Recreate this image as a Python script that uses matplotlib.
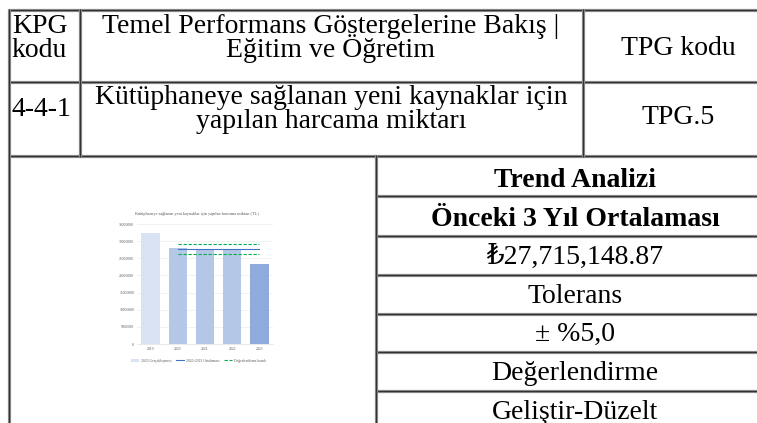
import numpy as np
import matplotlib.pyplot as plt

# Tablo metinleri
kpg_kod = ['KPG', 'kodu']
baslik = ['Temel Performans Göstergelerine Bakış |', 'Eğitim ve Öğretim']
tpg_baslik = 'TPG kodu'
kpg_no = '4-4-1'
gosterge = ['Kütüphaneye sağlanan yeni kaynaklar için', 'yapılan harcama miktarı']
tpg_no = 'TPG.5'
sag_satirlar = ['Trend Analizi', 'Önceki 3 Yıl Ortalaması', '₺27,715,148.87',
                'Tolerans', '± %5,0', 'Değerlendirme', 'Geliştir-Düzelt']
kalin = [True, True, False, False, False, False, False]

# Grafik verisi
yillar = ['2019', '2020', '2021', '2022', '2023']
harcama = [32300000, 27900000, 27650000, 27600000, 23300000]
ortalama = [np.nan, 27715148.87, 27715148.87, 27715148.87, 27715148.87]
bant_ust = [np.nan, 29100906.31, 29100906.31, 29100906.31, 29100906.31]
bant_alt = [np.nan, 26329391.43, 26329391.43, 26329391.43, 26329391.43]
bar_renk = ['#dae3f3', '#b4c7e7', '#b4c7e7', '#b4c7e7', '#8faadc']

serif = ['Liberation Serif', 'DejaVu Serif']
plt.rcParams['font.family'] = serif

fig = plt.figure(figsize=(7.57, 4.23), dpi=100)
tab = fig.add_axes([0, 0, 1, 1])
tab.set_xlim(0, 757)
tab.set_ylim(423, 0)
tab.axis('off')

def cizgi(xs, ys):
    tab.plot(xs, ys, color='#8a8a8a', lw=2.3, solid_capstyle='butt')
    tab.plot(xs, ys, color='#333333', lw=0.8, solid_capstyle='butt')

R = 774
# yatay çizgiler
for y in [10, 82, 156]:
    cizgi([8, R], [y, y])
for y in [196, 236, 275, 314, 352, 391]:
    cizgi([376, R], [y, y])
# dikey çizgiler
cizgi([9, 9], [9, 430])
cizgi([80, 80], [9, 157])
cizgi([583, 583], [9, 157])
cizgi([376, 376], [155, 430])

fs = 20
# 1. satır
tab.text(12, 33, kpg_kod[0], fontsize=fs, ha='left', va='baseline')
tab.text(12, 57, kpg_kod[1], fontsize=fs, ha='left', va='baseline')
tab.text(331, 33, baslik[0], fontsize=fs, ha='center', va='baseline')
tab.text(331, 57, baslik[1], fontsize=fs, ha='center', va='baseline')
tab.text(678, 55, tpg_baslik, fontsize=fs, ha='center', va='baseline')
# 2. satır
tab.text(12, 116, kpg_no, fontsize=fs, ha='left', va='baseline')
tab.text(331, 104, gosterge[0], fontsize=fs, ha='center', va='baseline')
tab.text(331, 128, gosterge[1], fontsize=fs, ha='center', va='baseline')
tab.text(678, 124, tpg_no, fontsize=fs, ha='center', va='baseline')
# sağ sütun
for i, (t, b) in enumerate(zip(sag_satirlar, kalin)):
    tab.text(575, 187 + i * 38.6, t, fontsize=fs, ha='center', va='baseline',
             fontweight='bold' if b else 'normal')

# Gömülü grafik
ax = fig.add_axes([137 / 757, (423 - 344) / 423, 136 / 757, 120 / 423])
x = np.arange(len(yillar))
b = ax.bar(x, harcama, width=0.68, color=bar_renk, zorder=2,
           label='2023 Gerçekleşmesi')
l1, = ax.plot(x, ortalama, color='#4472c4', lw=0.8, zorder=3, label='2020-2022 Ortalaması')
l2, = ax.plot(x, bant_ust, color='#00b050', lw=0.8, ls=(0, (3, 1.5)), zorder=3,
              label='Değerlendirme bandı')
ax.plot(x, bant_alt, color='#00b050', lw=0.8, ls=(0, (3, 1.5)), zorder=3)
ax.set_xlim(-0.5, 4.5)
ax.set_ylim(0, 35000000)
ax.set_yticks(np.arange(0, 35000001, 5000000))
ax.set_yticklabels([str(v) for v in range(0, 35000001, 5000000)])
ax.set_xticks(x)
ax.set_xticklabels(yillar)
ax.tick_params(labelsize=2.7, colors='#595959', length=0, pad=2)
ax.grid(axis='y', color='#e6e6e6', lw=0.4, zorder=0)
for s in ['top', 'right', 'left']:
    ax.spines[s].set_visible(False)
ax.spines['bottom'].set_color('#d9d9d9')
ax.spines['bottom'].set_linewidth(0.4)
ax.text(0.44, 1.07, 'Kütüphaneye sağlanan yeni kaynaklar için yapılan harcama miktarı (TL)',
        transform=ax.transAxes, fontsize=3.1, color='#595959', ha='center', va='bottom')
ax.legend(handles=[b, l1, l2], loc='center', bbox_to_anchor=(0.45, -0.14), ncol=3,
          fontsize=2.7, frameon=False, handlelength=2.2, columnspacing=1.2,
          handletextpad=0.4, labelcolor='#595959')

fig.savefig('out.png', dpi=100)
